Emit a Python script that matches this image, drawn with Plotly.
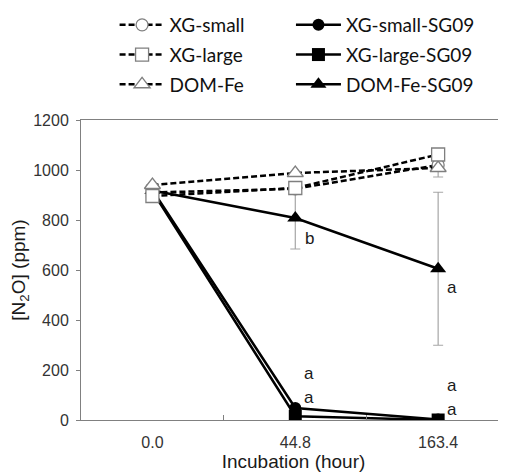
import plotly.graph_objects as go

categories = ["0.0", "44.8", "163.4"]

xg_small = [910, 925, 1020]
xg_large = [896, 928, 1062]
dom_fe = [940, 988, 1008]
xg_small_sg09 = [920, 48, 2]
xg_large_sg09 = [915, 15, 0]
dom_fe_sg09 = [918, 808, 605]
dom_fe_sg09_err = [0, 124, 306]
dom_fe_err = [0, 0, 36]

letters_text = ["b", "a", "a", "a", "a", "a"]
letters_cat = ["44.8", "44.8", "44.8", "163.4", "163.4", "163.4"]
letters_y = [728, 188, 92, 532, 140, 44]

GRAY = "#7f7f7f"
BLACK = "#000000"
TXT = "Arial, Liberation Sans, sans-serif"
DASH = "6px,3px"

fig = go.Figure()

# SG09 (solid) series
fig.add_trace(go.Scatter(
    x=categories, y=xg_small_sg09, name="XG-small-SG09", mode="lines+markers",
    line=dict(color=BLACK, width=2.5),
    marker=dict(symbol="circle", size=12, color=BLACK),
    legend="legend2", legendgroup="g4", legendrank=1))
fig.add_trace(go.Scatter(
    x=categories, y=xg_large_sg09, name="XG-large-SG09", mode="lines+markers",
    line=dict(color=BLACK, width=2.5),
    marker=dict(symbol="square", size=13, color=BLACK),
    legend="legend2", legendgroup="g5", legendrank=2))
fig.add_trace(go.Scatter(
    x=categories, y=dom_fe_sg09, name="DOM-Fe-SG09", mode="lines+markers",
    line=dict(color=BLACK, width=2.5),
    marker=dict(symbol="triangle-up", size=14, color=BLACK),
    error_y=dict(type="data", array=dom_fe_sg09_err, color="#a6a6a6",
                 thickness=1.2, width=5),
    legend="legend2", legendgroup="g6", legendrank=3))

# control (dashed) series
fig.add_trace(go.Scatter(
    x=categories, y=xg_small, name="XG-small", mode="lines+markers",
    line=dict(color=BLACK, width=2.5, dash=DASH),
    marker=dict(symbol="circle", size=12, color="white",
                line=dict(color=GRAY, width=1.3)),
    legend="legend", legendgroup="g1", legendrank=1))
fig.add_trace(go.Scatter(
    x=categories, y=dom_fe, name="DOM-Fe", mode="lines+markers",
    line=dict(color=BLACK, width=2.5, dash=DASH),
    marker=dict(symbol="triangle-up", size=14, color="white",
                line=dict(color=GRAY, width=1.3)),
    error_y=dict(type="data", symmetric=False, array=[0, 0, 0],
                 arrayminus=dom_fe_err, color="#a6a6a6", thickness=1.2, width=5),
    legend="legend", legendgroup="g3", legendrank=3))
fig.add_trace(go.Scatter(
    x=categories, y=xg_large, name="XG-large", mode="lines+markers",
    line=dict(color=BLACK, width=2.5, dash=DASH),
    marker=dict(symbol="square", size=13, color="white",
                line=dict(color=GRAY, width=1.3)),
    legend="legend", legendgroup="g2", legendrank=2))

for t, cat, yv in zip(letters_text, letters_cat, letters_y):
    fig.add_annotation(x=categories.index(cat), y=yv, text=t, showarrow=False,
                       xshift=14, xref="x", yref="y",
                       font=dict(family=TXT, size=17, color="#1a1a1a"))

legend_common = dict(
    orientation="v", yanchor="top", xanchor="left",
    font=dict(family="Lato, Carlito, sans-serif", size=19, color="#111111"),
    bgcolor="rgba(0,0,0,0)", tracegroupgap=2, itemwidth=45,
    traceorder="grouped")

fig.update_layout(
    width=498, height=464,
    margin=dict(l=73, r=0, t=112, b=52, autoexpand=False),
    paper_bgcolor="white", plot_bgcolor="white",
    showlegend=True,
    legend=dict(x=0.079, y=1.38, **legend_common),
    legend2=dict(x=0.494, y=1.38, **legend_common),
    font=dict(family=TXT, color="#333333"),
    xaxis=dict(type="category", categoryorder="array", categoryarray=categories,
               range=[-0.5, 2.475], showline=True, linecolor="#808080", linewidth=1,
               mirror=True, ticks="inside", tickson="boundaries", ticklen=5,
               tickcolor="#808080", showgrid=False, zeroline=False,
               ticklabelstandoff=8,
               tickfont=dict(family=TXT, size=16, color="#333333"),
               title=dict(text="Incubation (hour)",
                          font=dict(family=TXT, size=19, color="#1a1a1a"),
                          standoff=2)),
    yaxis=dict(range=[0, 1200], dtick=200, showline=True, linecolor="#808080",
               linewidth=1, ticks="outside", ticklen=4, tickcolor="#808080",
               showgrid=False, zeroline=False, ticklabelstandoff=4,
               tickfont=dict(family=TXT, size=16, color="#333333"),
               title=dict(text="[N<sub>2</sub>O] (ppm)",
                          font=dict(family=TXT, size=19, color="#1a1a1a"),
                          standoff=7)),
)

fig.write_html("out.html")
